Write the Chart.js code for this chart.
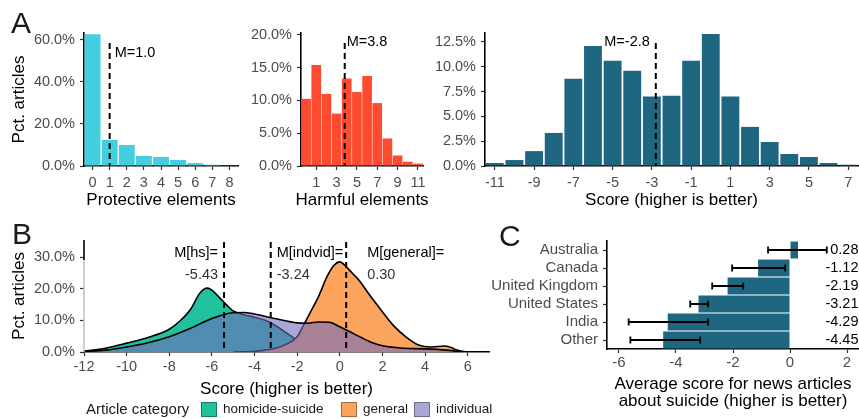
<!DOCTYPE html>
<html><head><meta charset="utf-8">
<script src="https://cdn.jsdelivr.net/npm/chart.js@4.4.1/dist/chart.umd.min.js"></script>
<style>
html,body{margin:0;padding:0;background:#fff;}
#wrap{position:relative;width:859px;height:419px;overflow:hidden;font-family:"Liberation Sans",Arial,Helvetica,sans-serif;}
canvas{position:absolute;}
.lett{position:absolute;font-size:30px;line-height:1;color:#1a1a1a;}
.lg{position:absolute;line-height:18px;height:18px;white-space:nowrap;color:#1a1a1a;}
.sw{position:absolute;width:14px;height:13px;border:1px solid rgba(0,0,0,0.35);}
</style></head>
<body><div id="wrap">
<canvas id="a1" width="240" height="215" style="left:0;top:0"></canvas>
<canvas id="a2" width="200" height="215" style="left:240px;top:0"></canvas>
<canvas id="a3" width="434" height="215" style="left:425px;top:0"></canvas>
<canvas id="b" width="495" height="204" style="left:0;top:215px"></canvas>
<canvas id="c" width="379" height="204" style="left:480px;top:215px"></canvas>
<div class="lett" style="left:11px;top:8px">A</div>
<div class="lett" style="left:12px;top:219px">B</div>
<div class="lett" style="left:499px;top:221px">C</div>
<div id="legend"></div>
</div>
<script>
// ---------- data ----------
const protectiveBins = [0,1,2,3,4,5,6,7,8];
const protectivePct  = [62.7,12.4,10.0,4.8,4.3,2.9,1.4,0.6,0.15];
const protectiveMean = 1.0;
const protectiveTicks = [0,1,2,3,4,5,6,7,8];
const protectivePctTicks = [0,20,40,60];

const harmfulBins = [0,1,2,3,4,5,6,7,8,9,10,11];
const harmfulPct  = [10.25,15.4,11.0,8.0,13.35,11.3,13.75,9.6,4.2,1.6,0.66,0.36];
const harmfulMean = 3.8;
const harmfulTicks = [1,3,5,7,9,11];
const harmfulPctTicks = [0,5,10,15,20];

const scoreBins = [-11,-10,-9,-8,-7,-6,-5,-4,-3,-2,-1,0,1,2,3,4,5,6,7];
const scorePct  = [0.3,0.6,1.5,3.33,8.8,12.1,10.6,9.6,7.0,7.07,10.6,13.3,7.0,3.94,2.42,1.21,0.91,0.3,0.13];
const scoreMean = -2.8;
const scoreTicks = [-11,-9,-7,-5,-3,-1,1,3,5,7];
const scorePctTicks = [0,2.5,5,7.5,10,12.5];

const categoryNames = ['homicide-suicide','general','individual'];
const hsX = [-12,-11,-10,-9,-8,-7.5,-7,-6.6,-6.4,-6.25,-6.05,-5.7,-5.3,-5,-4.5,-4,-3.5,-3,-2.5,-2,-1.5,-1,0,1];
const hsY = [0.3,1.2,2.8,4.6,7.2,9.8,13.5,18.3,19.7,20.2,19.8,17.6,14.8,13.0,11.8,11.0,10.0,8.3,6.0,3.8,2.0,1.0,0.3,0];
const generalX = [-5,-4,-3.5,-3,-2.5,-2,-1.7,-1.4,-1,-0.6,-0.3,0,0.3,0.6,0.9,1.4,1.9,2.5,3.1,3.7,4.3,4.9,5.2,5.5,5.9,6.3];
const generalY = [0,0.2,0.6,1.2,2.5,4.8,8.5,12.3,17.5,23.8,27.2,28.5,27,24.8,22.7,18,13.6,8.5,4.8,2.2,1.6,1.9,1.5,0.6,0.1,0];
const individualX = [-12,-11,-10,-9,-8,-7,-6,-5,-4.5,-4,-3,-2,-1.5,-1,-0.5,0,0.5,1,1.5,2,2.5,3,4,5,5.7,6.2];
const individualY = [0.1,0.6,1.6,2.9,4.8,7.5,10.6,12.4,12.5,12.0,10.5,9.2,9.1,9.5,9.4,8.0,6.3,4.6,3.0,2.0,1.5,1.2,1.0,0.6,0.1,0];
const categoryMeanKeys = ['hs','indvid','general'];
const categoryMeans = [-5.43,-3.24,0.30];
const densityTicksX = [-12,-10,-8,-6,-4,-2,0,2,4,6];
const densityTicksY = [0,10,20,30];

const countries = ['Australia','Canada','United Kingdom','United States','India','Other'];
const countryMeans = [0.28,-1.12,-2.19,-3.21,-4.29,-4.45];
const ciLow  = [-0.77,-2.03,-2.73,-3.50,-5.66,-5.60];
const ciHigh = [1.29,-0.17,-1.64,-2.87,-2.87,-3.15];
const countryTicks = [-6,-4,-2,0,2];

// ---------- style ----------
const FONT = '"Liberation Sans", Arial, Helvetica, sans-serif';
const TICKC = '#4d4d4d';
const CYAN = '#43cfe0', RED = '#fe4a2f', BLUE = '#1f6681';
const TEAL = '#21c19e', ORANGE = '#fca35d', PURPLE = 'rgba(113,107,190,0.6)';
Chart.defaults.font.family = FONT;
Chart.defaults.color = TICKC;
Chart.defaults.animation = false;
Chart.defaults.plugins.legend.display = false;
Chart.defaults.plugins.tooltip.enabled = false;
Chart.defaults.devicePixelRatio = 1;

const gridOpts = () => ({display:true, drawOnChartArea:false, drawTicks:true, tickLength:4, tickWidth:1.2, tickColor:'#333', offset:false});
const borderOpts = () => ({display:true, color:'#000', width:1.6});
const fixedTicks = vals => s => { s.ticks = vals.map(v => ({value:v})); };
const pctLabel = v => Number(v).toFixed(1) + '%';

function xLin(min, max, ticks, title, h, tickPad, titlePad, size) {
  return {type:'linear', min, max, offset:false,
    afterBuildTicks: fixedTicks(ticks), afterFit: s => { s.height = h; },
    ticks:{padding:tickPad, color:TICKC, font:{size:size||14.5}, autoSkip:false, maxRotation:0, callback: v => String(v)},
    grid:gridOpts(), border:borderOpts(),
    title:{display:!!title, text:title, color:'#000', font:{size:17, lineHeight:1}, padding:{top:0, bottom:titlePad}}};
}
function yPct(max, ticks, w, title, titlePad) {
  return {type:'linear', min:0, max,
    afterBuildTicks: fixedTicks(ticks), afterFit: s => { s.width = w; },
    ticks:{padding:5, color:TICKC, font:{size:14.5}, autoSkip:false, callback: pctLabel},
    grid:gridOpts(), border:borderOpts(),
    title:{display:!!title, text:title, color:'#000', font:{size:17, lineHeight:1}, padding:{top:titlePad||0, bottom:0}}};
}

function meanPlugin(items, lineTop) {
  return {id:'meanMarks', afterDatasetsDraw(chart) {
    const {ctx, chartArea:ca, scales:{x}} = chart;
    ctx.save();
    for (const m of items) {
      const px = x.getPixelForValue(m.value);
      ctx.beginPath(); ctx.setLineDash([6,4]); ctx.lineWidth = 2; ctx.strokeStyle = '#000';
      ctx.moveTo(px, ca.top + lineTop); ctx.lineTo(px, ca.bottom); ctx.stroke();
      ctx.setLineDash([]);
      ctx.font = '14.5px ' + FONT; ctx.textBaseline = 'middle';
      ctx.textAlign = m.side === 'left' ? 'right' : 'left';
      const tx = m.side === 'left' ? px - m.dx : px + m.dx;
      m.lines.forEach((t, i) => { ctx.fillStyle = m.colors[i]; ctx.fillText(t, tx, ca.top + m.dy[i]); });
    }
    ctx.restore();
  }};
}
// x-axis title drawn without width squeezing
function xTitlePlugin(text, fromBottom) {
  return {id:'xTitleFree', afterDraw(chart) {
    const {ctx, chartArea:ca} = chart;
    ctx.save(); ctx.font = '17px ' + FONT; ctx.fillStyle = '#000';
    ctx.textAlign = 'center'; ctx.textBaseline = 'middle';
    ctx.fillText(text, (ca.left + ca.right) / 2, chart.height - fromBottom);
    ctx.restore();
  }};
}

function hist(id, bins, pct, color, barPct, xmin, xmax, xTicks, ymax, yTicks, yW, padR, xTitle, yTitle, mean, mSide, mDx, mDy) {
  new Chart(document.getElementById(id), {
    type:'bar',
    data:{datasets:[{data: bins.map((b,i) => ({x:b, y:pct[i]})), backgroundColor:color, borderWidth:0, categoryPercentage:1, barPercentage:barPct}]},
    options:{responsive:false, devicePixelRatio:1,
      layout:{padding:{left:0, right:padR, top:33, bottom:0}},
      scales:{x: xLin(xmin, xmax, xTicks, '', 49, 3.8, 6), y: yPct(ymax, yTicks, yW, yTitle, 11)}},
    plugins:[xTitlePlugin(xTitle, 14.5), meanPlugin([{value:mean, side:mSide, dx:mDx, dy:[mDy], lines:['M=' + mean.toFixed(1)], colors:['#000']}], 10)]
  });
}
hist('a1', protectiveBins, protectivePct, CYAN, 0.93, -0.5, 8.5, protectiveTicks, 63.3, protectivePctTicks, 84, 2, 'Protective elements', 'Pct. articles', protectiveMean, 'right', 5, 20);
hist('a2', harmfulBins, harmfulPct, RED, 0.95, -0.5, 11.5, harmfulTicks, 20.3, harmfulPctTicks, 61, 17, 'Harmful elements', '', harmfulMean, 'right', 2, 9);
hist('a3', scoreBins, scorePct, BLUE, 0.91, -11.5, 7.5, scoreTicks, 13.4, scorePctTicks, 60, 1, 'Score (higher is better)', '', scoreMean, 'left', 6, 9);

// ---------- B ----------
const bYAxis = {id:'bYAxis', afterDraw(chart) {
  const {ctx, chartArea:ca, scales:{y}} = chart;
  const yb = y.getPixelForValue(densityTicksY[densityTicksY.length-1]);
  ctx.save(); ctx.lineWidth = 1.6;
  ctx.strokeStyle = '#c4c4c4'; ctx.beginPath(); ctx.moveTo(ca.left, yb); ctx.lineTo(ca.left, ca.bottom); ctx.stroke();
  ctx.strokeStyle = '#000'; ctx.beginPath(); ctx.moveTo(ca.left, ca.top); ctx.lineTo(ca.left, yb + 3); ctx.stroke();
  ctx.restore();
}};
const series = [[hsX, hsY, TEAL, 3], [generalX, generalY, ORANGE, 2], [individualX, individualY, PURPLE, 1]];
const yB = yPct(35.4, densityTicksY, 84, 'Pct. articles', 10.5);
yB.border = {display:false};
new Chart(document.getElementById('b'), {
  type:'line',
  data:{datasets: series.map((s, k) => ({label:categoryNames[k], data:s[0].map((x,i) => ({x, y:s[1][i]})), fill:'origin',
    backgroundColor:s[2], borderColor:'#000', borderWidth:1.6, pointRadius:0, cubicInterpolationMode:'monotone', order:s[3]}))},
  options:{responsive:false, devicePixelRatio:1,
    layout:{padding:{left:0, right:6, top:25, bottom:0}},
    scales:{x: xLin(-12, 7, densityTicksX, 'Score (higher is better)', 67, 2.3, 21.5), y: yB}},
  plugins:[bYAxis, meanPlugin([
    {value:categoryMeans[0], side:'left', dx:6, dy:[13,35], lines:['M[' + categoryMeanKeys[0] + ']=', categoryMeans[0].toFixed(2)], colors:['#000','#333']},
    {value:categoryMeans[1], side:'right', dx:6, dy:[13,35], lines:['M[' + categoryMeanKeys[1] + ']=', categoryMeans[1].toFixed(2)], colors:['#000','#333']},
    {value:categoryMeans[2], side:'right', dx:21, dy:[13,35], lines:['M[' + categoryMeanKeys[2] + ']=', categoryMeans[2].toFixed(2)], colors:['#000','#333']}
  ], 2)]
});

// legend for B
(function(){
  const lg = document.getElementById('legend');
  const colors = [TEAL, ORANGE, 'rgb(170,166,216)'];
  const swX = [201, 341, 414];
  let html = '<div class="lg" style="left:86px;top:400px;font-size:15px">Article category</div>';
  categoryNames.forEach((n, i) => {
    html += '<div class="sw" style="left:' + swX[i] + 'px;top:402px;background:' + colors[i] + '"></div>';
    html += '<div class="lg" style="left:' + (swX[i] + 22) + 'px;top:400px;font-size:13.5px">' + n + '</div>';
  });
  lg.innerHTML = html;
})();

// ---------- C ----------
const errPlugin = {id:'errBars', afterDatasetsDraw(chart) {
  const {ctx, chartArea:ca, scales:{x, y}} = chart;
  ctx.save(); ctx.strokeStyle = '#000'; ctx.lineWidth = 1.8;
  countries.forEach((c, i) => {
    const py = y.getPixelForValue(i), x1 = x.getPixelForValue(ciLow[i]), x2 = x.getPixelForValue(ciHigh[i]);
    ctx.beginPath();
    ctx.moveTo(x1, py); ctx.lineTo(x2, py);
    ctx.moveTo(x1, py - 3.5); ctx.lineTo(x1, py + 3.5);
    ctx.moveTo(x2, py - 3.5); ctx.lineTo(x2, py + 3.5);
    ctx.stroke();
  });
  ctx.font = '14.5px ' + FONT; ctx.fillStyle = '#000'; ctx.textAlign = 'right'; ctx.textBaseline = 'middle';
  countries.forEach((c, i) => { ctx.fillText(countryMeans[i].toFixed(2), ca.right - 0.5, y.getPixelForValue(i)); });
  ctx.restore();
}};
const xC = xLin(-6.42, 2.42, countryTicks, ['Average score for news articles', 'about suicide (higher is better)'], 70, 1, 9.5, 15);
new Chart(document.getElementById('c'), {
  type:'bar',
  data:{labels:countries, datasets:[{data:countryMeans, backgroundColor:BLUE, borderWidth:0, categoryPercentage:1, barPercentage:0.94}]},
  options:{responsive:false, devicePixelRatio:1, indexAxis:'y',
    layout:{padding:{left:0, right:0, top:26, bottom:0}},
    scales:{x: xC,
      y:{type:'category', offset:true, afterFit: s => { s.width = 127; },
        ticks:{padding:5, color:TICKC, font:{size:15}, autoSkip:false},
        grid:gridOpts(), border:borderOpts()}}},
  plugins:[errPlugin]
});
</script>
</body></html>
